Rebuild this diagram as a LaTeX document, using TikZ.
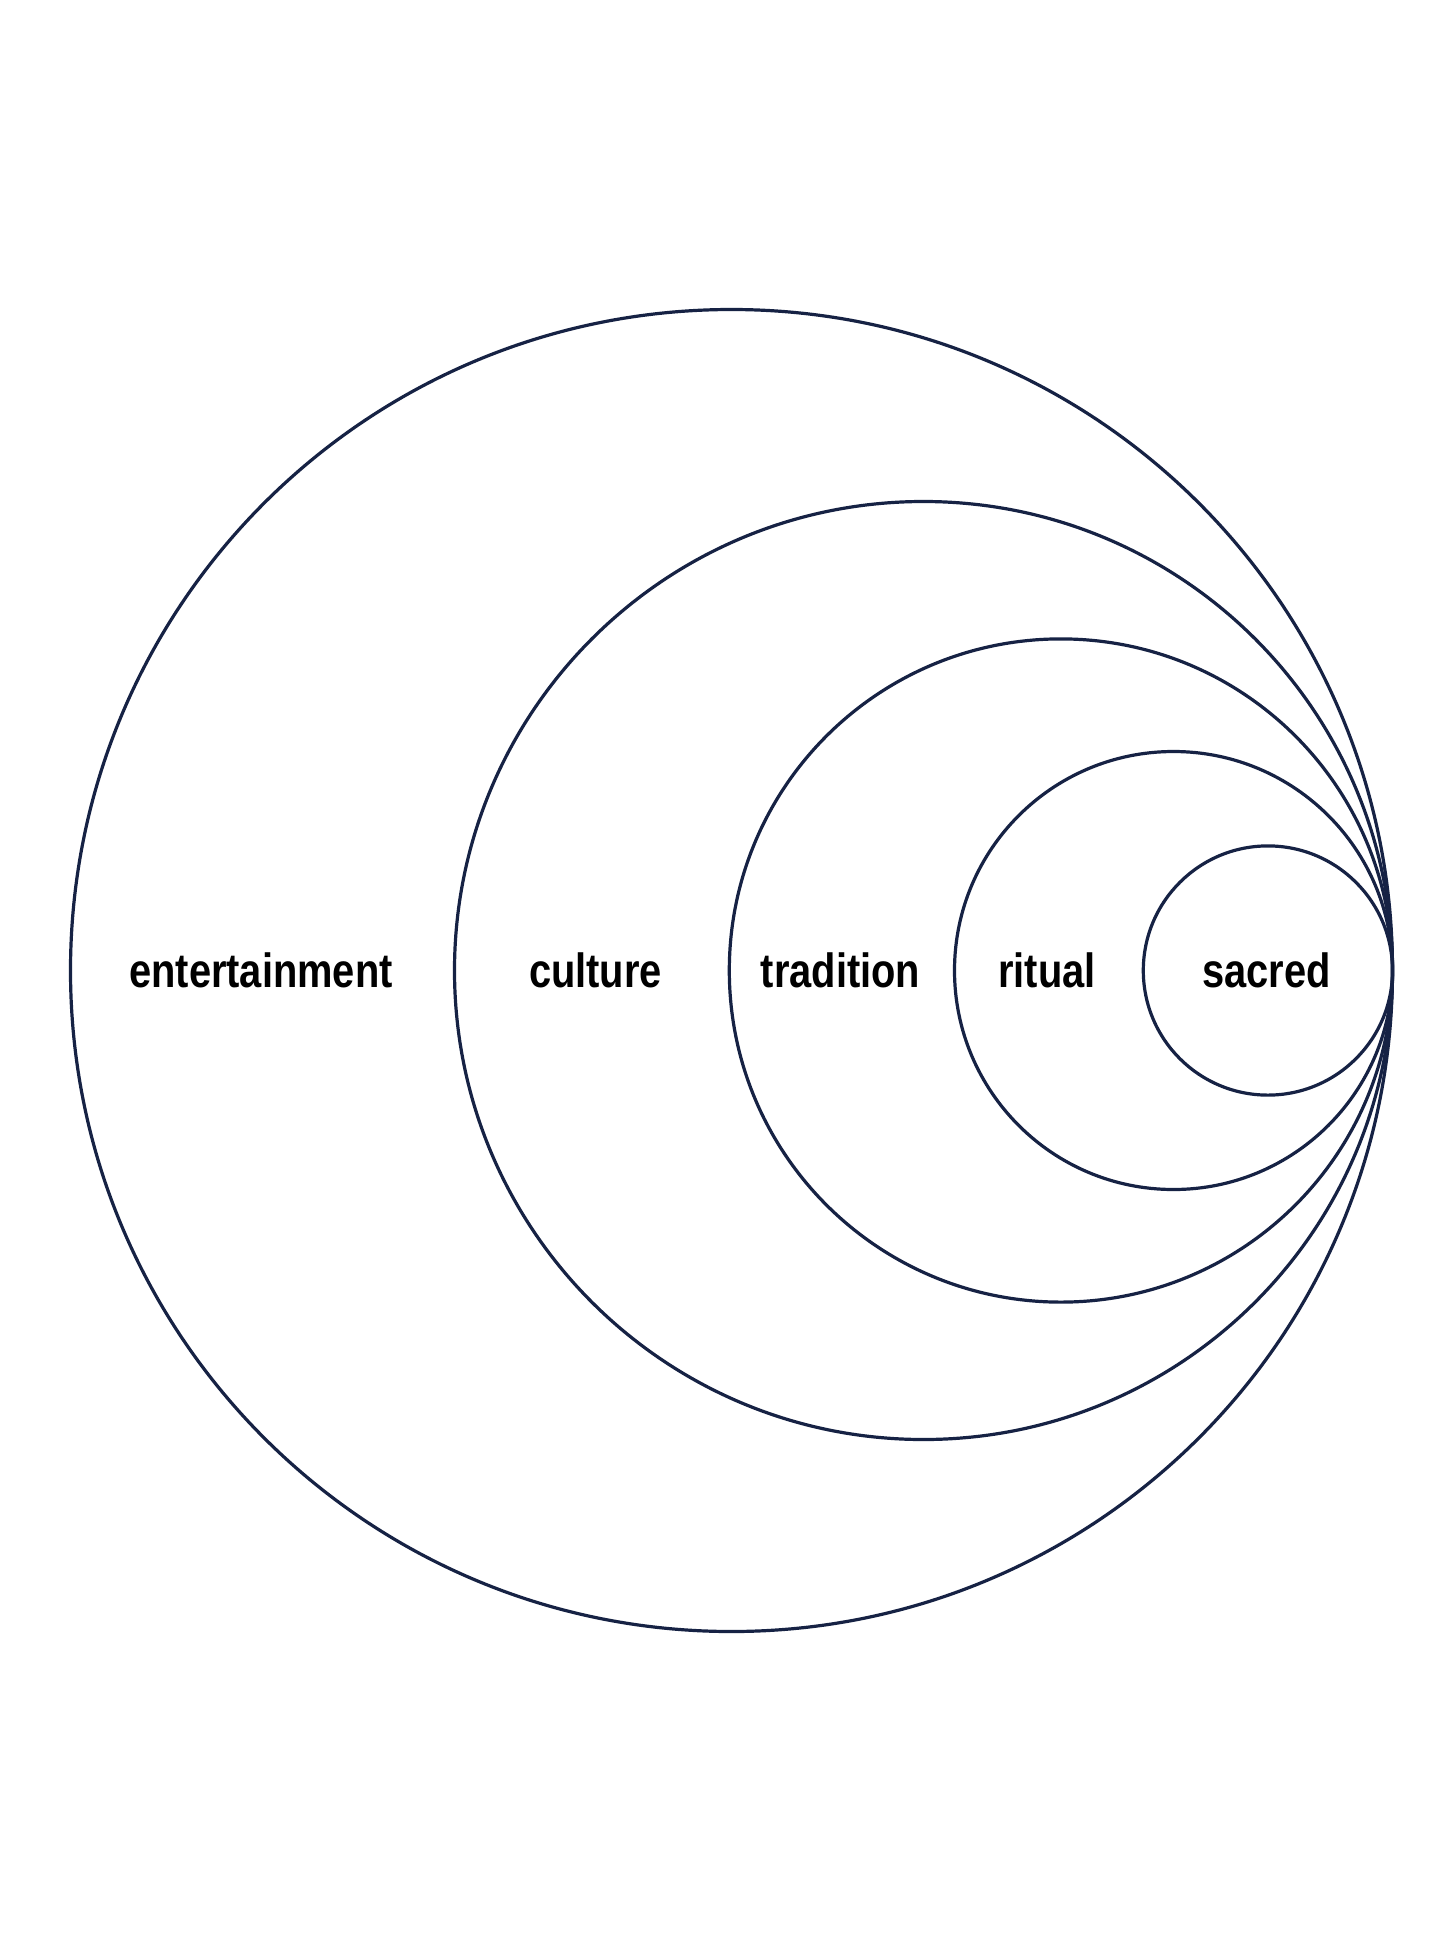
\documentclass[tikz,border=0pt]{standalone}
\usepackage{fontspec}
\setmainfont{Liberation Sans}
\definecolor{ringcol}{RGB}{22,34,68}
\begin{document}
\begin{tikzpicture}[x=1pt,y=-1pt,
  ring/.style={draw=ringcol,line width=3.2pt},
  lab/.style={font=\fontsize{48}{54}\selectfont\bfseries,inner sep=0pt,anchor=base}]
\useasboundingbox[fill=white] (0,0) rectangle (1456,1941);
\coordinate (T) at (1392.5,970.5);
\draw[ring] (T) ++(-661,0) circle[radius=661];
\draw[ring] (T) ++(-469,0) circle[radius=469];
\draw[ring] (T) ++(-331.6,0) circle[radius=331.6];
\draw[ring] (T) ++(-219,0) circle[radius=219];
\draw[ring] (T) ++(-124.6,0) circle[radius=124.6];
\node[lab] (ent) at (261,987) {\scalebox{0.83}[1]{entertainment}};
\node[lab] (cul) at (595.5,987) {\scalebox{0.83}[1]{culture}};
\node[lab] (tra) at (840.6,987) {\scalebox{0.83}[1]{tradition}};
\node[lab] (rit) at (1047,987) {\scalebox{0.83}[1]{ritual}};
\node[lab] (sac) at (1266.5,987) {\scalebox{0.83}[1]{sacred}};
\end{tikzpicture}
\end{document}
